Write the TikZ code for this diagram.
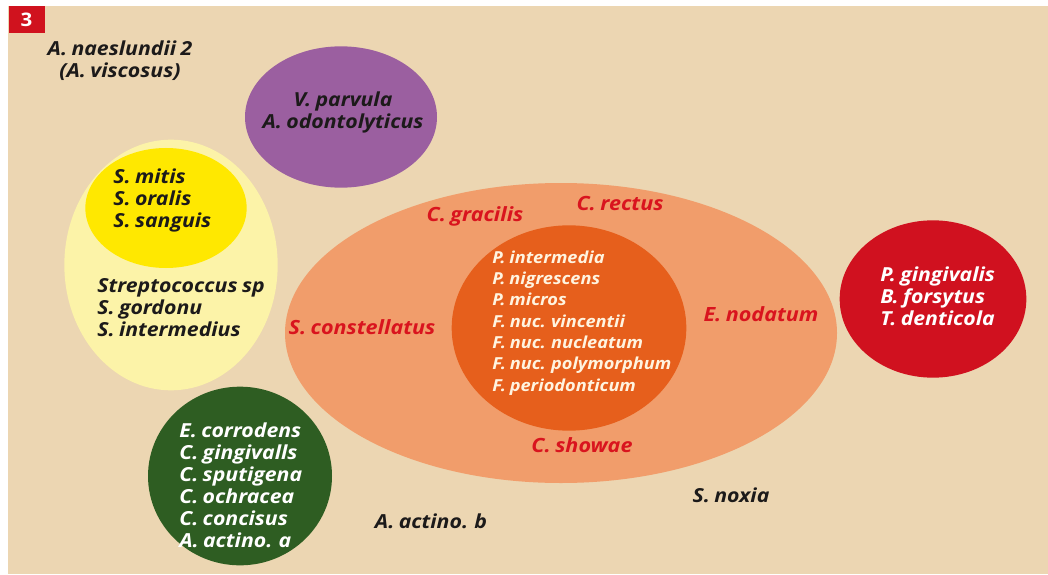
\documentclass[tikz,border=0pt]{standalone}
\usepackage{fontspec}
\setmainfont{Open Sans}[FakeStretch=1.1,WordSpace=0.8]
\usetikzlibrary{shapes.geometric}
\definecolor{paper}{HTML}{ECD6B2}
\definecolor{badge}{HTML}{D0121E}
\definecolor{violet}{HTML}{9B5FA0}
\definecolor{paleyel}{HTML}{FCF3A8}
\definecolor{yel}{HTML}{FFE800}
\definecolor{lightor}{HTML}{F19D6B}
\definecolor{darkor}{HTML}{E65F1C}
\definecolor{redc}{HTML}{D0111F}
\definecolor{greenc}{HTML}{2E5D22}
\definecolor{labred}{HTML}{D9141E}
\definecolor{ink}{HTML}{1C1A1A}
\definecolor{cream}{HTML}{FFF4E0}
\begin{document}
\begin{tikzpicture}[x=0.75pt,y=-0.75pt,
  blob/.style={ellipse,inner sep=0pt,outer sep=0pt,draw=none},
  names/.style={inner sep=0pt,align=left,anchor=west,font=\bfseries\itshape\fontsize{14.5}{16.5}\selectfont},
  small/.style={inner sep=0pt,align=left,anchor=west,font=\bfseries\itshape\fontsize{12.4}{16}\selectfont},
  tag/.style={inner sep=0pt,text=labred,font=\bfseries\itshape\fontsize{14.7}{15}\selectfont}]
  \useasboundingbox (0,0) rectangle (1048,574);
  \fill[white] (0,0) rectangle (1048,574);
  \fill[paper] (8,6) rectangle (1048,574);

  % figure number
  \node[fill=badge,text=white,minimum width=27pt,minimum height=20.5pt,inner sep=0pt,
        font=\bfseries\fontsize{14}{14}\selectfont] (badge) at (26.5,19.5) {3};

  % clusters (sizes in pt = 0.75 * pixel diameter)
  \node[blob,fill=violet,minimum width=144pt,minimum height=106pt] (purple) at (341,117) {};
  \node[blob,fill=paleyel,minimum width=160pt,minimum height=188pt] (pale) at (171,265) {};
  \node[blob,fill=yel,minimum width=121pt,minimum height=90pt] (yellow) at (166,208) {};
  \node[blob,fill=lightor,minimum width=414pt,minimum height=225pt] (orange) at (561,333) {};
  \node[blob,fill=darkor,minimum width=176pt,minimum height=154pt] (core) at (569,328) {};
  \node[blob,fill=redc,minimum width=140pt,minimum height=118pt] (red) at (933,299) {};
  \node[blob,fill=greenc,minimum width=138pt,minimum height=134pt] (green) at (240,476) {};

  % species lists
  \node[names,text=ink,align=center,anchor=center] (naes) at (120,61)
    {A. naeslundii 2\\(A. viscosus)};
  \node[names,text=ink,align=center,anchor=center] (vpar) at (343,112)
    {V. parvula\\A. odontolyticus};
  \node[names,text=ink] (mitis) at (113,200)
    {S. mitis\\S. oralis\\S. sanguis};
  \node[names,text=ink] (strep) at (97,308)
    {Streptococcus sp\\S. gordonu\\S. intermedius};
  \node[small,text=cream] (coretxt) at (492,323)
    {P. intermedia\\P. nigrescens\\P. micros\\F. nuc. vincentii\\F. nuc. nucleatum\\F. nuc. polymorphum\\F. periodonticum};
  \node[names,text=white] (redtxt) at (880,296)
    {P. gingivalis\\B. forsytus\\T. denticola};
  \node[names,text=white] (greentxt) at (179,485)
    {E. corrodens\\C. gingivalls\\C. sputigena\\C. ochracea\\C. concisus\\A. actino. a};

  % orange complex members
  \node[tag] (grac) at (475,216) {C. gracilis};
  \node[tag] (rect) at (620,204) {C. rectus};
  \node[tag] (const) at (362,327) {S. constellatus};
  \node[tag] (nod) at (761,314) {E. nodatum};
  \node[tag] (show) at (582,445) {C. showae};

  % unassigned species
  \node[names,text=ink,anchor=center] (actb) at (431,521) {A. actino. b};
  \node[names,text=ink,anchor=center] (noxia) at (731,495) {S. noxia};
\end{tikzpicture}
\end{document}
